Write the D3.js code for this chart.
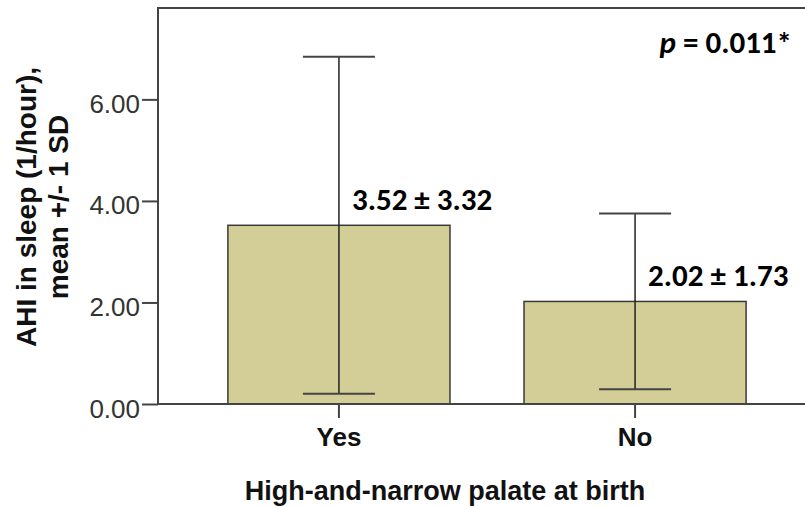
<!DOCTYPE html>
<html>
<head>
<meta charset="utf-8">
<script src="https://cdn.jsdelivr.net/npm/d3@7"></script>
<style>
  body { margin: 0; background: #fff; }
</style>
</head>
<body>
<script>
// data
const categories = ["Yes", "No"];
const means = [3.52, 2.02];
const sds = [3.32, 1.73];
const errLow = [0.20, 0.29];   // lower whisker ends (clipped in original)
const yTicks = [0, 2, 4, 6];

const W = 805, H = 507;
const plotLeft = 158, plotRight = 816, plotTop = 8, plotBottom = 404;

const svg = d3.select("body")
    .append("svg")
    .attr("width", W)
    .attr("height", H);

const y = d3.scaleLinear()
    .domain([0, 7.8])
    .range([plotBottom, plotTop]);

const x = d3.scaleBand()
    .domain(categories)
    .range([plotLeft, plotRight])
    .paddingInner(0.25)
    .paddingOuter(0.236);

const data = categories.map((c, i) => ({cat: c, mean: means[i], sd: sds[i], low: errLow[i]}));

// bars
svg.selectAll(".bar")
    .data(data)
    .join("rect")
    .attr("class", "bar")
    .attr("x", d => x(d.cat))
    .attr("y", d => y(d.mean))
    .attr("width", x.bandwidth())
    .attr("height", d => y(0) - y(d.mean))
    .attr("fill", "#d3ce97")
    .attr("stroke", "#3a3a3a")
    .attr("stroke-width", 1.5);

// error bars
const cx = d => x(d.cat) + x.bandwidth() / 2;
const capW = 36;
const eb = svg.append("g");
eb.selectAll(".stem")
    .data(data)
    .join("line")
    .attr("x1", cx).attr("x2", cx)
    .attr("y1", d => y(d.mean + d.sd))
    .attr("y2", d => y(d.low))
    .attr("stroke", "#222")
    .attr("stroke-width", 1.5);
eb.selectAll(".capTop")
    .data(data)
    .join("line")
    .attr("x1", d => cx(d) - capW).attr("x2", d => cx(d) + capW)
    .attr("y1", d => y(d.mean + d.sd)).attr("y2", d => y(d.mean + d.sd))
    .attr("stroke", "#444")
    .attr("stroke-width", 2);
eb.selectAll(".capLow")
    .data(data)
    .join("line")
    .attr("x1", d => cx(d) - capW).attr("x2", d => cx(d) + capW)
    .attr("y1", d => y(d.low)).attr("y2", d => y(d.low))
    .attr("stroke", "#444")
    .attr("stroke-width", 2);

// frame
svg.append("rect")
    .attr("x", plotLeft).attr("y", plotTop)
    .attr("width", plotRight - plotLeft).attr("height", plotBottom - plotTop)
    .attr("fill", "none")
    .attr("stroke", "#444")
    .attr("stroke-width", 2);

// Y axis
const yAxis = svg.append("g")
    .attr("transform", `translate(${plotLeft},0)`)
    .call(d3.axisLeft(y)
        .tickValues(yTicks)
        .tickFormat(d3.format(".2f"))
        .tickSize(16)
        .tickSizeOuter(0)
        .tickPadding(2));
yAxis.select(".domain").remove();
yAxis.selectAll("line").attr("stroke", "#444").attr("stroke-width", 2);
yAxis.selectAll("text")
    .attr("dy", "0.5em")
    .attr("fill", "#333")
    .style("font-family", "'Liberation Sans', Arial, sans-serif")
    .style("font-size", "26px");

// X axis
const xAxis = svg.append("g")
    .attr("transform", `translate(0,${plotBottom})`)
    .call(d3.axisBottom(x)
        .tickSize(14)
        .tickSizeOuter(0)
        .tickPadding(10));
xAxis.select(".domain").remove();
xAxis.selectAll("line").attr("stroke", "#444").attr("stroke-width", 2);
xAxis.selectAll("text")
    .attr("fill", "#111")
    .style("font-family", "'Liberation Sans', Arial, sans-serif")
    .style("font-weight", "bold")
    .style("font-size", "26px");

// axis titles
svg.append("text")
    .attr("x", 445)
    .attr("y", 500)
    .attr("text-anchor", "middle")
    .attr("fill", "#111")
    .style("font-family", "'Liberation Sans', Arial, sans-serif")
    .style("font-weight", "bold")
    .style("font-size", "27px")
    .text("High-and-narrow palate at birth");

const yTitle = ["AHI in sleep (1/hour),", "mean +/- 1 SD"];
svg.selectAll(".ytitle")
    .data(yTitle)
    .join("text")
    .attr("transform", (d, i) => `translate(${36 + i * 32},207) rotate(-90)`)
    .attr("text-anchor", "middle")
    .attr("fill", "#111")
    .style("font-family", "'Liberation Sans', Arial, sans-serif")
    .style("font-weight", "bold")
    .style("font-size", "28px")
    .text(d => d);

// value labels
svg.selectAll(".lbl")
    .data(data)
    .join("text")
    .attr("x", d => cx(d) + 13)
    .attr("y", d => y(d.mean) - 15)
    .attr("fill", "#000")
    .style("font-family", "Carlito, Lato, sans-serif")
    .style("font-weight", "bold")
    .style("font-size", "31px")
    .text(d => `${d.mean.toFixed(2)} ± ${d.sd.toFixed(2)}`);

// p value
const pText = svg.append("text")
    .attr("x", 792)
    .attr("y", 53)
    .attr("text-anchor", "end")
    .attr("fill", "#000")
    .style("font-family", "Carlito, Lato, sans-serif")
    .style("font-weight", "bold")
    .style("font-size", "31px");
pText.append("tspan").style("font-style", "italic").text("p");
pText.append("tspan").text(" = 0.011*");
</script>
</body>
</html>
